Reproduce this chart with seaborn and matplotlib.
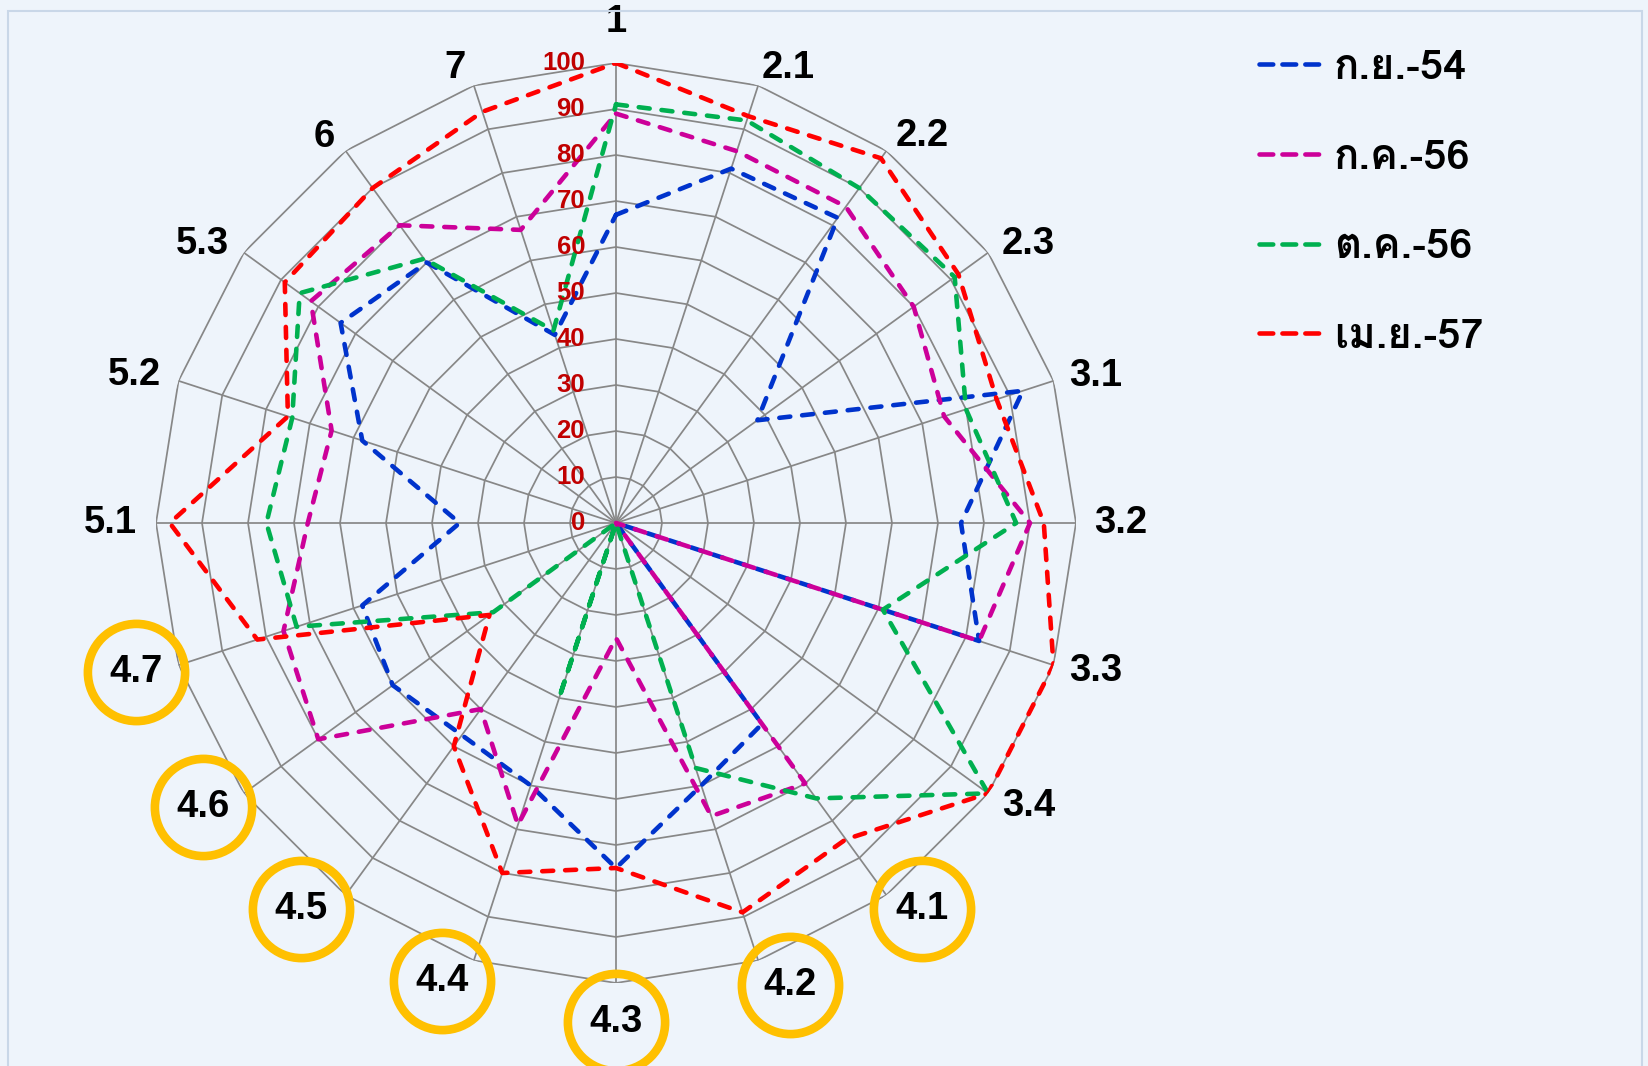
import matplotlib
matplotlib.use("Agg")
import matplotlib.pyplot as plt
import matplotlib.transforms as mtransforms
from matplotlib import font_manager
from matplotlib.ft2font import FT2Font
from matplotlib.lines import Line2D
from matplotlib.patches import Rectangle
import numpy as np
import pandas as pd
import seaborn as sns

# --- data -----------------------------------------------------------
categories = ["1", "2.1", "2.2", "2.3", "3.1", "3.2", "3.3", "3.4",
              "4.1", "4.2", "4.3", "4.4", "4.5", "4.6", "4.7",
              "5.1", "5.2", "5.3", "6", "7"]
circled = ["4.1", "4.2", "4.3", "4.4", "4.5", "4.6", "4.7"]
series_names = ["ก.ย.-54", "ก.ค.-56", "ต.ค.-56", "เม.ย.-57"]
sep_54 = [67, 81, 82, 38, 93, 75, 83, 0, 54, 60, 75, 60, 57, 60, 58, 34, 58, 74, 70, 43]
jul_56 = [89, 85, 85, 80, 75, 90, 83, 0, 70, 67, 25, 69, 50, 80, 76, 67, 65, 82, 80, 67]
oct_56 = [91, 92, 90, 91, 80, 87, 61, 100, 74, 56, 0, 40, 0, 33, 73, 76, 74, 85, 71, 44]
apr_57 = [100, 93, 98, 92, 87, 93, 100, 100, 85, 89, 75, 80, 60, 34, 82, 97, 75, 89, 90, 94]
ring_levels = [0, 10, 20, 30, 40, 50, 60, 70, 80, 90, 100]

colors = ["#0033CC", "#CC0099", "#00B050", "#FF0000"]
grid_color = "#878787"

# where each category label sits (angle in degrees clockwise from top, radius)
label_angle = [0, 20.7, 38.4, 55.9, 72.9, 90, 107.1, 124.4, 141.6, 159.3,
               180, 200.8, 219.2, 235.5, 252.7, 270, 287.1, 304, 322.9, 340.5]
label_radius = [109, 105.7, 107.3, 108.2, 109, 109.7, 109.2, 108.8, 107.1, 107.3,
                108.4, 106.4, 108.2, 109, 109.2, 109.9, 109.5, 108.4, 105.3, 104.9]


def find_thai_families():
    found = []
    for fe in font_manager.fontManager.ttflist:
        try:
            if ord("ก") in FT2Font(fe.fname).get_charmap() and fe.name not in found:
                found.append(fe.name)
        except Exception:
            continue
    return found


sns.set_theme(style="white")
thai_fams = find_thai_families()
preferred = [f for f in ["Loma", "Tlwg Typo", "Garuda", "FreeSans"] if f in thai_fams]
thai_first = preferred[:1] or thai_fams[:1]
plt.rcParams["font.family"] = ["Liberation Sans", "DejaVu Sans"]
plt.rcParams["text.color"] = "black"
legend_family = thai_first + ["Liberation Sans", "DejaVu Sans"]

n = len(categories)
theta = np.linspace(0, 2 * np.pi, n, endpoint=False)
theta_closed = np.append(theta, 2 * np.pi)

rows = []
for name, vals in zip(series_names, [sep_54, jul_56, oct_56, apr_57]):
    for t, v in zip(theta_closed, vals + vals[:1]):
        rows.append({"theta": t, "value": v, "series": name})
df = pd.DataFrame(rows)

fig = plt.figure(figsize=(16.48, 10.66), dpi=100)
fig.patch.set_facecolor("#EEF4FB")
ax = fig.add_axes([156 / 1648, 83 / 1066, 920 / 1648, 920 / 1066], projection="polar")
ax.set_facecolor("none")
ax.set_theta_zero_location("N")
ax.set_theta_direction(-1)

# polygon grid (Excel style radar)
for lvl in ring_levels[1:]:
    ax.plot(theta_closed, [lvl] * (n + 1), color=grid_color, lw=1.25, zorder=1)
for t in theta:
    ax.plot([t, t], [0, 100], color=grid_color, lw=1.25, zorder=1)

n_before = len(ax.lines)
sns.lineplot(data=df, x="theta", y="value", hue="series", hue_order=series_names,
             palette=colors, sort=False, estimator=None, lw=3.3, legend=False, ax=ax)
for line in ax.lines[n_before:]:
    line.set_linestyle((0, (2.4, 2.6)))
    line.set_dash_capstyle("round")
    line.set_zorder(3)

ax.set_ylim(0, 100)
ax.set_xticks([])
ax.set_yticks([])
ax.grid(False)
ax.spines["polar"].set_visible(False)
ax.set_xlabel("")
ax.set_ylabel("")

# radial value labels
lab_tr = mtransforms.offset_copy(ax.transData, fig=fig, x=-31, y=0, units="dots")
for lvl in ring_levels:
    ax.text(0, lvl, str(lvl), transform=lab_tr, ha="right", va="center",
            fontsize=18.5, fontweight="bold", color="#C00000", zorder=4)

# category labels, some circled
lab_theta = np.deg2rad(label_angle)
for t, r, cat in zip(lab_theta, label_radius, categories):
    ax.text(t, r, cat, ha="center", va="center", fontsize=27.5,
            fontweight="bold", color="black", zorder=5)
circ_idx = [i for i, c in enumerate(categories) if c in circled]
ax.plot(lab_theta[circ_idx], np.array(label_radius)[circ_idx], "o", ms=70, mfc="none",
        mec="#FFC000", mew=6.2, clip_on=False, zorder=5)

handles = [Line2D([], [], color=c, lw=3.3, linestyle=(0, (3.0, 2.0)),
                  dash_capstyle="round") for c in colors]
leg = fig.legend(handles, series_names, loc="upper left",
                 bbox_to_anchor=(1238 / 1648, 1 - 29 / 1066), frameon=False,
                 handlelength=1.58, handletextpad=0.22, labelspacing=1.26,
                 borderpad=0, prop={"family": legend_family, "weight": "bold", "size": 30})
for txt in leg.get_texts():
    txt.set_color("black")

fig.add_artist(Rectangle((8 / 1648, -0.01), 1634 / 1648, 1.0, transform=fig.transFigure,
                         fill=False, ec="#C9D7E8", lw=1.5))

fig.savefig("out.png", dpi=100, facecolor=fig.get_facecolor())
